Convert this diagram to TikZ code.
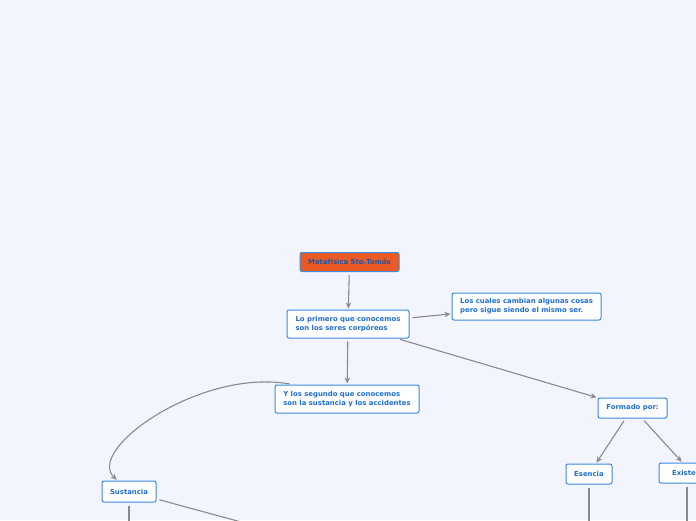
\documentclass[tikz,border=0pt]{standalone}
\usepackage{fontspec}
\setmainfont{DejaVu Sans}
\usepackage{xcolor}
\usetikzlibrary{arrows.meta}

\definecolor{bgblue}{HTML}{F2F5FE}
\definecolor{boxline}{HTML}{3A8AE2}
\definecolor{boxtext}{HTML}{1F6ED6}
\definecolor{rootfill}{HTML}{EB5A24}
\definecolor{linkgray}{HTML}{8A8A8E}

\begin{document}
\begin{tikzpicture}[x=1pt, y=-1pt,
  topic/.style={draw=boxline, line width=1pt, rounded corners=2pt, fill=white,
                text=boxtext, font=\fontsize{6.9}{9}\selectfont\bfseries,
                align=left, inner xsep=7pt, inner ysep=3pt, minimum height=20pt},
  rootbox/.style={topic, fill=rootfill, text=boxtext!80!black},
  arrow/.style={-{Stealth[length=6pt, width=5.5pt]}, line width=1.1pt, linkgray,
                shorten <=3pt, shorten >=1pt},
  link/.style={line width=1.1pt, linkgray, shorten <=3pt}
]
  \useasboundingbox (0,0) rectangle (696,520);
  \clip (0,0) rectangle (696,520);
  \fill[bgblue] (0,0) rectangle (696,520);

  \node[rootbox, minimum width=99pt, minimum height=19pt] (M) at (349.5,262) {Metafísica Sto.Tomás};
  \node[topic, minimum width=122pt, minimum height=28pt] (P1) at (348,324)   {Lo primero que conocemos\\son los seres corpóreos};
  \node[topic, minimum width=149pt, minimum height=27pt] (P2) at (526.5,306.5) {Los cuales cambian algunas cosas\\pero sigue siendo el mismo ser.};
  \node[topic, minimum width=144pt, minimum height=28pt] (Y)  at (347,399)   {Y los segundo que conocemos\\son la sustancia y los accidentes};
  \node[topic, minimum width=69pt] (F)  at (632.5,408) {Formado por:};
  \node[topic, minimum width=54pt, minimum height=21pt] (S)  at (129,491.5) {Sustancia};
  \node[topic, minimum width=46pt] (E)  at (589,474)   {Esencia};
  \node[topic, minimum width=66pt] (X)  at (692,473)   {Existencia};

  \draw[arrow] (M) -- (P1);
  \draw[arrow] (P1) -- (P2);
  \draw[arrow] (P1) -- (Y);
  \draw[arrow] (P1) -- (F);
  \draw[arrow] ([xshift=18pt]Y.north west) .. controls (200,368) and (85,450) .. ([xshift=16pt]S.north west);
  \draw[arrow] (F) -- (E);
  \draw[arrow] (F) -- (X);

  % branches running on below the page
  \coordinate (Sdown)  at (129,560);
  \coordinate (Sright) at (300,538);
  \draw[link] (S) -- (Sdown);
  \draw[link] (S) -- (Sright);
  \draw[link] (E.south) -- ++(0,50);
  \draw[link] ([xshift=-5pt]X.south) -- ++(0,50);
\end{tikzpicture}
\end{document}
